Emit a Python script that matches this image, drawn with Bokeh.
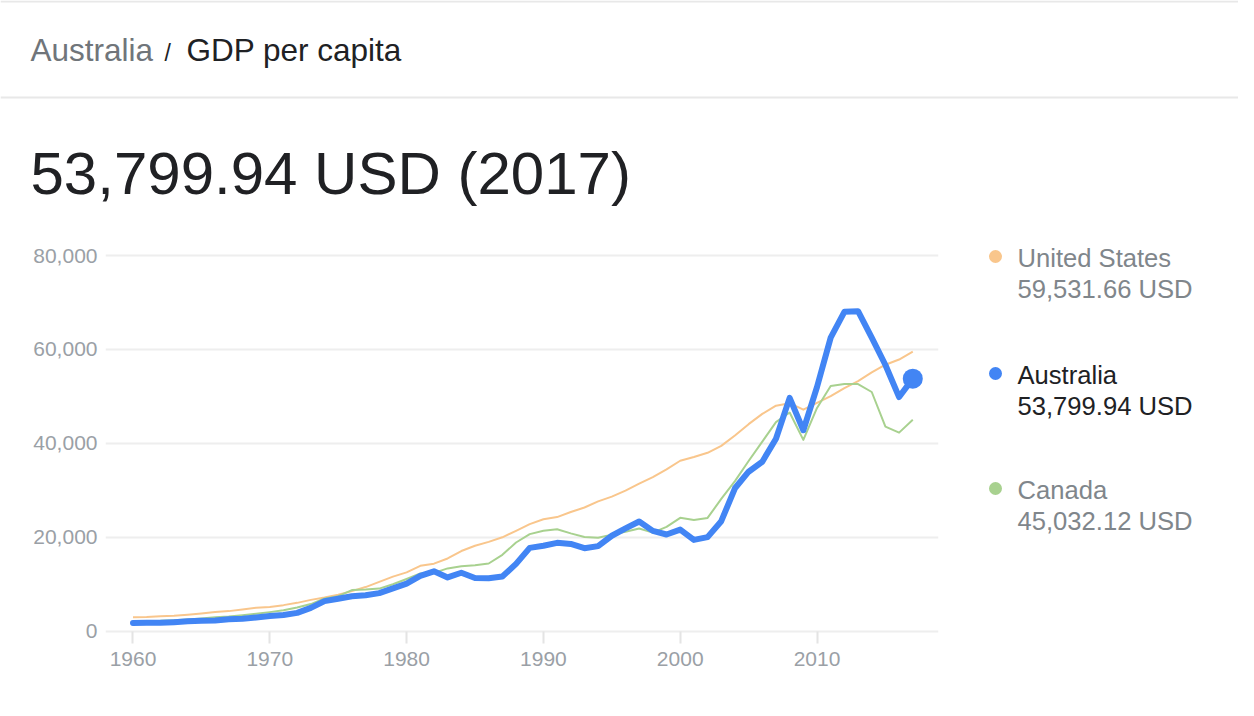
from bokeh.plotting import figure
from bokeh.layouts import column, row
from bokeh.models import Range1d, FixedTicker, NumeralTickFormatter
from bokeh.core.properties import value
from bokeh.embed import file_html
from bokeh.resources import INLINE

# ---------------- data ----------------
years = list(range(1960, 2018))

australia = [1807, 1875, 1851, 1977, 2165, 2304, 2353, 2587, 2701, 2989,
             3304, 3494, 3961, 5017, 6471, 6970, 7483, 7721, 8171, 9186,
             10195, 11835, 12796, 11509, 12493, 11379, 11331, 11695, 14381, 17799,
             18250, 18859, 18623, 17717, 18170, 20375, 21923, 23409, 21405, 20639,
             21679, 19491, 20083, 23465, 30473, 33997, 36118, 41015, 49705, 42816,
             52022, 62517, 68012, 68151, 62511, 56707, 49876, 53800]

united_states = [3007, 3067, 3244, 3375, 3574, 3828, 4146, 4336, 4696, 5032,
                 5234, 5609, 6094, 6726, 7226, 7801, 8592, 9453, 10565, 11674,
                 12575, 13976, 14434, 15544, 17121, 18237, 19071, 20039, 21417, 22857,
                 23889, 24342, 25419, 26387, 27695, 28691, 29968, 31459, 32854, 34515,
                 36335, 37133, 38023, 39497, 41712, 44115, 46299, 48050, 48570, 47195,
                 48651, 50066, 51784, 53291, 55124, 56763, 57867, 59532]

canada = [2259, 2240, 2269, 2374, 2555, 2770, 3047, 3217, 3463, 3764,
          4122, 4520, 5090, 5839, 7033, 7511, 8809, 8919, 9124, 10044,
          11171, 12338, 12482, 13425, 13879, 14115, 14463, 16310, 18937, 20716,
          21448, 21768, 20880, 20121, 19935, 20614, 21227, 21902, 21029, 22256,
          24190, 23738, 24168, 28200, 31988, 36267, 40386, 44544, 46595, 40773,
          47562, 52224, 52670, 52635, 50956, 43596, 42316, 45032]

x_ticks = [1960, 1970, 1980, 1990, 2000, 2010]
y_ticks = [0, 20000, 40000, 60000, 80000]

legend_names = ["United States", "Australia", "Canada"]
legend_values = ["59,531.66 USD", "53,799.94 USD", "45,032.12 USD"]
headline = "53,799.94 USD (2017)"
crumb_country = "Australia"
crumb_sep = "/"
crumb_metric = "GDP per capita"

# ---------------- style ----------------
FONT = "Liberation Sans"
BLUE = "#4285f4"
ORANGE = "#f9c68c"
GREEN = "#a8d18f"
DARK = "#202124"
GRAY = "#70757a"
LEG_GRAY = "#80868b"
TICK_GRAY = "#9aa0a6"
RULE = "#e8e8e8"

W, H = 1238, 700
HEAD_H = 215          # header strip height (page pixels)
CHART_W = 960         # chart figure width
LEG_W = W - CHART_W   # legend strip width
FRAME_TOP, FRAME_BOTTOM = 246, 641


def blank(width, height, x0, x1, y0, y1):
    """A figure without axes; y grows downwards like page pixels."""
    f = figure(width=width, height=height, x_range=Range1d(x0, x1), y_range=Range1d(y1, y0),
               output_backend="svg", toolbar_location=None, title=None,
               x_axis_location=None, y_axis_location=None,
               min_border=0, min_border_left=0, min_border_right=0,
               min_border_top=0, min_border_bottom=0)
    f.outline_line_color = None
    f.xgrid.visible = False
    f.ygrid.visible = False
    f.background_fill_color = "white"
    f.border_fill_color = "white"
    return f


def put_text(f, xs, ys, texts, size, colors):
    f.text(x=xs, y=ys, text=texts, text_font=value(FONT), text_font_size=value(size),
           text_color=colors, text_baseline="middle", text_align="left")


# ---------------- header ----------------
head = blank(W, HEAD_H, 0, W, 0, HEAD_H)
head.hspan(y=[1], line_color=RULE, line_width=2)
head.hspan(y=[97], line_color=RULE, line_width=2)
put_text(head, [30], [49], [crumb_country], "31.5px", GRAY)
put_text(head, [164], [52], [crumb_sep], "23px", DARK)
put_text(head, [186], [49], [crumb_metric], "31.5px", DARK)
put_text(head, [30], [173], [headline], "60px", DARK)

# ---------------- chart ----------------
p = figure(width=CHART_W, height=H - HEAD_H,
           x_range=Range1d(1957.99, 2018.88), y_range=Range1d(-2128, 81915),
           output_backend="svg", toolbar_location=None, title=None,
           min_border_left=105, min_border_right=CHART_W - 938,
           min_border_top=FRAME_TOP - HEAD_H, min_border_bottom=H - FRAME_BOTTOM)
p.outline_line_color = None
p.background_fill_color = "white"
p.border_fill_color = "white"

p.xaxis.ticker = FixedTicker(ticks=x_ticks)
p.xaxis.axis_line_color = None
p.xaxis.major_tick_line_color = "#e4e4e4"
p.xaxis.major_tick_line_width = 2
p.xaxis.major_tick_in = 10
p.xaxis.major_tick_out = 2
p.xaxis.minor_tick_line_color = None
p.xaxis.major_label_standoff = 8
p.xaxis.major_label_text_font = FONT
p.xaxis.major_label_text_font_size = "21px"
p.xaxis.major_label_text_color = TICK_GRAY

p.yaxis.ticker = FixedTicker(ticks=y_ticks)
p.yaxis.formatter = NumeralTickFormatter(format="0,0")
p.yaxis.axis_line_color = None
p.yaxis.major_tick_line_color = None
p.yaxis.minor_tick_line_color = None
p.yaxis.major_tick_in = 0
p.yaxis.major_tick_out = 0
p.yaxis.major_label_standoff = 8
p.yaxis.major_label_text_font = FONT
p.yaxis.major_label_text_font_size = "21px"
p.yaxis.major_label_text_color = TICK_GRAY

p.xgrid.visible = False
p.ygrid.ticker = FixedTicker(ticks=y_ticks)
p.ygrid.grid_line_color = "#eeeeee"
p.ygrid.grid_line_width = 2

p.line(years, united_states, line_color=ORANGE, line_width=2, line_join="round")
p.line(years, canada, line_color=GREEN, line_width=2, line_join="round")
p.line(years, australia, line_color=BLUE, line_width=6, line_join="round", line_cap="round")
p.scatter([years[-1]], [australia[-1]], size=20, fill_color=BLUE, line_color=None)

# ---------------- legend (its frame is aligned with the chart frame by the row) ----------------
leg = blank(LEG_W, H - HEAD_H, CHART_W, W, FRAME_TOP, FRAME_BOTTOM)
leg_colors = [ORANGE, BLUE, GREEN]
leg_text_colors = [LEG_GRAY, DARK, LEG_GRAY]
dot_y = [256, 373, 488]
leg.scatter(x=[995] * 3, y=dot_y, size=13, fill_color=leg_colors, line_color=None)
put_text(leg, [1017] * 3, [v + 1 for v in dot_y], legend_names, "25.6px", leg_text_colors)
put_text(leg, [1017] * 3, [v + 32 for v in dot_y], legend_values, "25.6px", leg_text_colors)

layout = column(head, row(p, leg, spacing=0), spacing=0)
open("out.html", "w").write(file_html(layout, INLINE))
